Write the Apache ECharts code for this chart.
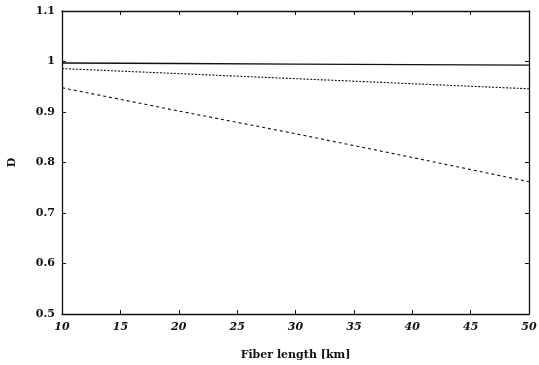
<!DOCTYPE html>
<html>
<head>
<meta charset="utf-8">
<script src="https://cdn.jsdelivr.net/npm/echarts@6/dist/echarts.min.js"></script>
<style>
  html, body { margin: 0; padding: 0; background: #fff; }
  #chart { width: 539px; height: 365px; }
</style>
</head>
<body>
<div id="chart"></div>
<script>
const fiberLength = [10, 20, 30, 40, 50];
const solidD = [0.997, 0.996, 0.995, 0.994, 0.993];
const dottedD = [0.986, 0.976, 0.966, 0.956, 0.946];
const dashedD = [0.948, 0.902, 0.857, 0.81, 0.762];

const ink = "#111";
const serif = "'DejaVu Serif', 'Liberation Serif', serif";

const pairs = (ys) => fiberLength.map((x, i) => [x, ys[i]]);

const chart = echarts.init(document.getElementById("chart"));

const baseX = {
  type: "value",
  min: 10,
  max: 50,
  interval: 5,
  axisLine: { show: true, lineStyle: { color: ink, width: 1.3 } },
  axisTick: { show: true, inside: true, length: 4, lineStyle: { color: ink } },
  splitLine: { show: false },
};
const baseY = {
  type: "value",
  min: 0.5,
  max: 1.1,
  interval: 0.1,
  axisLine: { show: true, lineStyle: { color: ink, width: 1.3 } },
  axisTick: { show: true, inside: true, length: 4, lineStyle: { color: ink } },
  splitLine: { show: false },
};

chart.setOption({
  animation: false,
  grid: { left: 62, right: 10, top: 11, bottom: 51, outerBoundsMode: "none" },
  xAxis: [
    {
      ...baseX,
      position: "bottom",
      name: "Fiber length [km]",
      nameLocation: "middle",
      nameGap: 36,
      nameTextStyle: { color: ink, fontFamily: serif, fontWeight: "bold", fontSize: 11 },
      axisLabel: {
        color: ink,
        fontFamily: serif,
        fontStyle: "italic",
        fontWeight: "bold",
        fontSize: 11,
        margin: 8,
      },
    },
    { ...baseX, position: "top", axisLabel: { show: false } },
  ],
  yAxis: [
    {
      ...baseY,
      position: "left",
      name: "D",
      nameLocation: "middle",
      nameGap: 44,
      nameRotate: 90,
      nameTextStyle: { color: ink, fontFamily: serif, fontWeight: "bold", fontSize: 11 },
      axisLabel: {
        color: ink,
        fontFamily: serif,
        fontWeight: "bold",
        fontSize: 11,
        margin: 7,
        formatter: (v) => String(Math.round(v * 10) / 10),
      },
    },
    { ...baseY, position: "right", axisLabel: { show: false } },
  ],
  series: [
    {
      type: "line",
      data: pairs(solidD),
      showSymbol: false,
      lineStyle: { color: ink, width: 1.3, type: "solid" },
    },
    {
      type: "line",
      data: pairs(dottedD),
      showSymbol: false,
      lineStyle: { color: ink, width: 1.1, type: [2, 1.5] },
    },
    {
      type: "line",
      data: pairs(dashedD),
      showSymbol: false,
      lineStyle: { color: ink, width: 1.1, type: [3, 3] },
    },
  ],
});
</script>
</body>
</html>
